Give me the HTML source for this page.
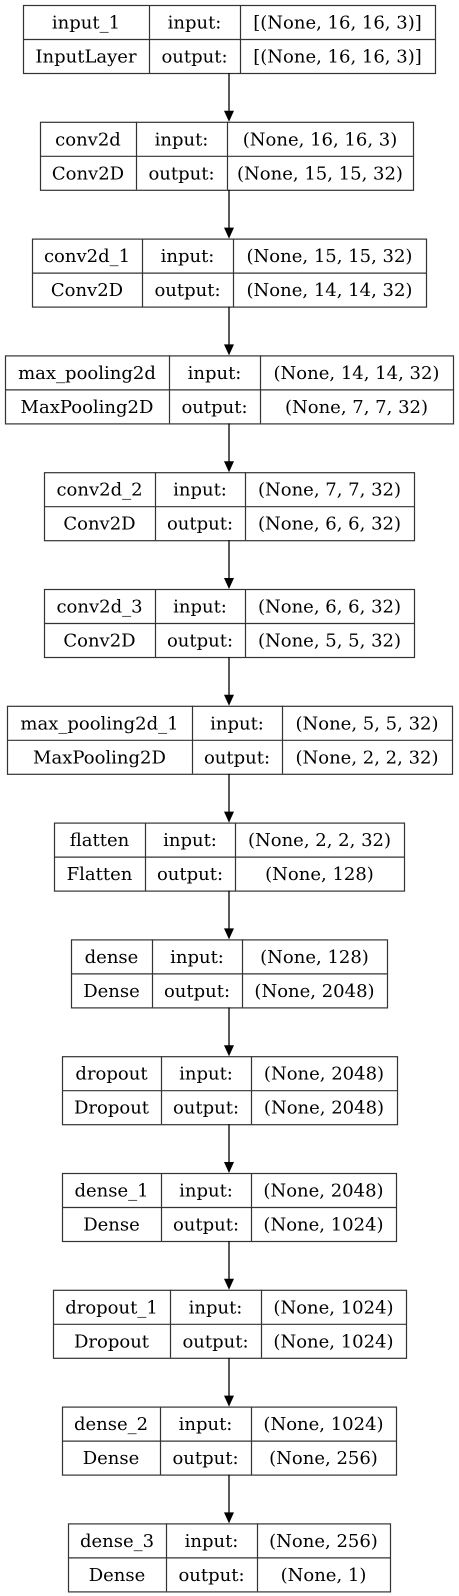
<!DOCTYPE html>
<html><head><meta charset="utf-8"><style>
html,body{margin:0;padding:0;background:#fff;width:459px;height:1596px;overflow:hidden}
svg text{font-family:"DejaVu Serif","Liberation Serif",serif;font-size:18px;fill:#000}
</style></head><body>
<svg id="g" width="459" height="1596" viewBox="0 0 459 1596" xmlns="http://www.w3.org/2000/svg"></svg>
<script>
const layerNames=["input_1","conv2d","conv2d_1","max_pooling2d","conv2d_2","conv2d_3","max_pooling2d_1","flatten","dense","dropout","dense_1","dropout_1","dense_2","dense_3"];
const layerTypes=["InputLayer","Conv2D","Conv2D","MaxPooling2D","Conv2D","Conv2D","MaxPooling2D","Flatten","Dense","Dropout","Dense","Dropout","Dense","Dense"];
const inShapes=["[(None, 16, 16, 3)]","(None, 16, 16, 3)","(None, 15, 15, 32)","(None, 14, 14, 32)","(None, 7, 7, 32)","(None, 6, 6, 32)","(None, 5, 5, 32)","(None, 2, 2, 32)","(None, 128)","(None, 2048)","(None, 2048)","(None, 1024)","(None, 1024)","(None, 256)"];
const outShapes=["[(None, 16, 16, 3)]","(None, 15, 15, 32)","(None, 14, 14, 32)","(None, 7, 7, 32)","(None, 6, 6, 32)","(None, 5, 5, 32)","(None, 2, 2, 32)","(None, 128)","(None, 2048)","(None, 2048)","(None, 1024)","(None, 1024)","(None, 256)","(None, 1)"];
const cols=[[23,149,240,435],[40,136,227,413],[32,142,233,426],[5,169,260,453],[44,155,245,414],[44,155,245,414],[7,192,282,452],[54,145,235,404],[71,152,242,387],[62,161,251,397],[62,161,251,396],[53,170,261,406],[62,160,251,396],[68,166,257,390]];
const NS="http://www.w3.org/2000/svg";
const svg=document.getElementById('g');
const top0=5,pitch=116.8,rowH=34,cx=229;
function mk(t,a){const e=document.createElementNS(NS,t);for(const k in a)e.setAttribute(k,a[k]);svg.appendChild(e);return e;}
function txt(x,y,s){const e=mk('text',{x:x,y:y,'text-anchor':'middle'});e.textContent=s;return e;}
layerNames.forEach((n,i)=>{
  const y=top0+i*pitch,c=cols[i];
  if(i>0){
    const py=top0+(i-1)*pitch+2*rowH;
    const ln=mk('line',{x1:cx,y1:py,x2:cx,y2:y-10,stroke:'#000','stroke-width':1.3});
    
    
    const ah=mk('polygon',{points:`${cx-5},${y-11} ${cx+5},${y-11} ${cx},${y}`,fill:'#000'});
    
    
  }
  const r=mk('rect',{x:c[0]+.5,y:y+.5,width:c[3]-c[0],height:2*rowH,fill:'#fff',stroke:'#333','stroke-width':1.2});
  
  
  mk('line',{x1:c[0],y1:y+rowH+.5,x2:c[3],y2:y+rowH+.5,stroke:'#333','stroke-width':1.2});
  mk('line',{x1:c[1]+.5,y1:y,x2:c[1]+.5,y2:y+2*rowH,stroke:'#333','stroke-width':1.2});
  mk('line',{x1:c[2]+.5,y1:y,x2:c[2]+.5,y2:y+2*rowH,stroke:'#333','stroke-width':1.2});
  const b1=y+rowH/2+6.5,b2=y+rowH*1.5+6.5;
  const t1=txt((c[0]+c[1])/2,b1,n);
  
  
  const t2=txt((c[0]+c[1])/2,b2,layerTypes[i]);
  
  
  const t3=txt((c[1]+c[2])/2,b1,'input:');
  
  
  const t4=txt((c[1]+c[2])/2,b2,'output:');
  
  
  const t5=txt((c[2]+c[3])/2,b1,inShapes[i]);
  
  
  const t6=txt((c[2]+c[3])/2,b2,outShapes[i]);
  
  
});
</script>
</body></html>
